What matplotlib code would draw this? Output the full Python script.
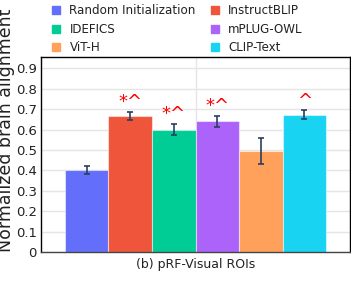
import numpy as np
import matplotlib.pyplot as plt
from matplotlib.lines import Line2D

models = ["Random Initialization", "InstructBLIP", "IDEFICS", "mPLUG-OWL", "ViT-H", "CLIP-Text"]
values = [0.40, 0.667, 0.60, 0.64, 0.493, 0.673]
errors = [0.02, 0.021, 0.029, 0.028, 0.064, 0.022]
marks = ["", "*^", "*^", "*^", "", "^"]
colors = ["#636EFA", "#EF553B", "#00CC96", "#AB63FA", "#FFA15A", "#19D3F3"]
yticks = [0, 0.1, 0.2, 0.3, 0.4, 0.5, 0.6, 0.7, 0.8, 0.9]

fig = plt.figure(figsize=(3.51, 2.88), dpi=100)
ax = fig.add_axes([0.117, 0.125, 0.880, 0.677])

x = np.arange(len(models))
ax.bar(x, values, width=1.0, color=colors, edgecolor=(1, 1, 1, 0.5), linewidth=0.8, zorder=2)
ax.errorbar(x, values, yerr=errors, fmt="none", ecolor="#2a3f5f", elinewidth=1.2,
            capsize=2, capthick=1.2, zorder=3)
for xi, v, e, m in zip(x, values, errors, marks):
    if m:
        ax.text(xi, v + e + 0.045, m, ha="center", va="center", color="red", fontsize=13)

ax.set_xlim(-1.05, 6.05)
ax.set_ylim(0, 0.955)
ax.set_yticks(yticks)
ax.set_yticklabels(["0"] + [f"{t:.1f}" for t in yticks[1:]])
ax.set_xticks([])
ax.axvline(2.5, color="#e5e5e5", lw=1, zorder=0)
ax.grid(axis="y", color="#e5e5e5", lw=1, zorder=0)
ax.set_axisbelow(True)
for s in ax.spines.values():
    s.set_color("black")
    s.set_linewidth(1)
ax.spines["bottom"].set_color("#444444")
ax.tick_params(axis="y", length=0, pad=3, labelsize=9.5, colors="#222222")
ax.set_ylabel("Normalized brain alignment", fontsize=12.5, color="#222222", labelpad=1, loc="bottom")
ax.set_xlabel("(b) pRF-Visual ROIs", fontsize=9, color="#222222", labelpad=4)

handles = [Line2D([], [], marker="s", ls="none", color=c, markersize=5.5) for c in colors]
order = [0, 2, 4, 1, 3, 5]
fig.legend([handles[i] for i in order], [models[i] for i in order], ncol=2,
           loc="upper left", bbox_to_anchor=(0.14, 0.985), frameon=False,
           borderpad=0, borderaxespad=0,
           fontsize=8.6, handletextpad=0.5, columnspacing=1.0, labelspacing=0.45,
           handlelength=1.2, labelcolor="#222222")

fig.savefig("out.png", dpi=100)
